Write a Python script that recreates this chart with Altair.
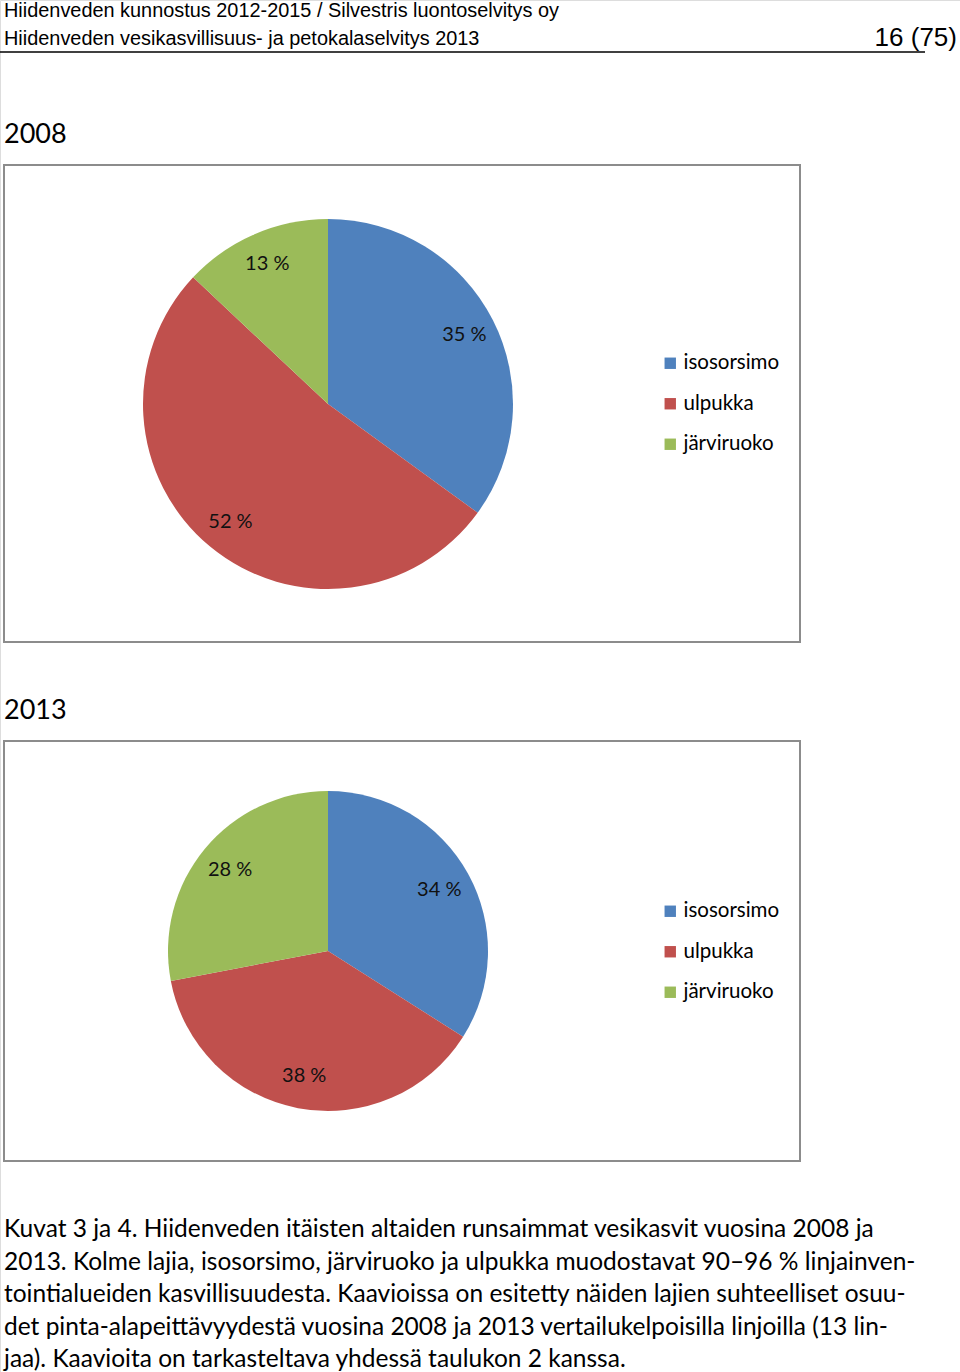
import altair as alt
import pandas as pd

species = ["isosorsimo", "ulpukka", "järviruoko"]
colors = ["#4F81BD", "#C0504D", "#9BBB59"]
values_2008 = [35, 52, 13]
values_2013 = [34, 38, 28]

header_line1 = "Hiidenveden kunnostus 2012-2015 / Silvestris luontoselvitys oy"
header_line2 = "Hiidenveden vesikasvillisuus- ja petokalaselvitys 2013"
page_no = "16 (75)"
caption_lines = [
    "Kuvat 3 ja 4. Hiidenveden itäisten altaiden runsaimmat vesikasvit vuosina 2008 ja",
    "2013. Kolme lajia, isosorsimo, järviruoko ja ulpukka muodostavat 90–96 % linjainven-",
    "tointialueiden kasvillisuudesta. Kaavioissa on esitetty näiden lajien suhteelliset osuu-",
    "det pinta-alapeittävyydestä vuosina 2008 ja 2013 vertailukelpoisilla linjoilla (13 lin-",
    "jaa). Kaavioita on tarkasteltava yhdessä taulukon 2 kanssa.",
]

FONT = "Lato"


def pie_df(vals):
    return pd.DataFrame({
        "species": species,
        "value": vals,
        "ord": list(range(len(species))),
        "label": [f"{v} %" for v in vals],
    })


one = pd.DataFrame({"a": [0]})


def text_layer(txt, x, y, size, font, align="left", baseline="alphabetic", color="#000", lh=None):
    kw = dict(align=align, baseline=baseline, fontSize=size, font=font, color=color)
    if lh is not None:
        kw["lineHeight"] = lh
    return alt.Chart(one).mark_text(**kw).encode(
        x=alt.value(x), y=alt.value(y), text=alt.value(txt)
    )


def box(x1, y1, x2, y2):
    return alt.Chart(one).mark_rect(fill="white", stroke="#8c8c8c", strokeWidth=2).encode(
        x=alt.value(x1), x2=alt.value(x2), y=alt.value(y1), y2=alt.value(y2)
    )


def pie(vals, cx, cy, r, label_r, lx, ly):
    df = pie_df(vals)
    base = alt.Chart(df)
    arc = base.mark_arc(radius=r, stroke=None).encode(
        theta=alt.Theta("value:Q", stack=True),
        order=alt.Order("ord:Q"),
        color=alt.Color(
            "species:N",
            sort=species,
            scale=alt.Scale(domain=species, range=colors),
            legend=alt.Legend(
                title=None, orient="none", legendX=lx, legendY=ly,
                symbolType="square", symbolSize=130, symbolStrokeWidth=0,
                labelFont=FONT, labelFontSize=20.5, labelColor="#000",
                rowPadding=19.5, labelOffset=3, padding=0,
            ),
        ),
        x=alt.value(cx), y=alt.value(cy),
    )
    lab = base.mark_text(radius=label_r, font=FONT, fontSize=20, color="#111").encode(
        theta=alt.Theta("value:Q", stack=True),
        order=alt.Order("ord:Q"),
        text="label:N",
        x=alt.value(cx), y=alt.value(cy),
    )
    return arc, lab


arc08, lab08 = pie(values_2008, 328, 404, 185, 153, 660, 353)
arc13, lab13 = pie(values_2013, 328, 951, 160, 127, 660, 901)

header_rule = alt.Chart(one).mark_rule(color="#000", strokeWidth=1.5).encode(
    x=alt.value(0), x2=alt.value(925), y=alt.value(52)
)

layers = [
    text_layer(header_line1, 4, 17, 19.9, "Liberation Sans"),
    text_layer(header_line2, 4, 45, 19.9, "Liberation Sans"),
    text_layer(page_no, 957, 46, 26, "Liberation Sans", align="right"),
    header_rule,
    text_layer("2008", 4, 143, 27, FONT),
    box(4, 165, 800, 642),
    arc08, lab08,
    text_layer("2013", 4, 719, 27, FONT),
    box(4, 741, 800, 1161),
    arc13, lab13,
    text_layer(caption_lines, 4, 1237, 24.5, FONT, lh=32.5),
]

chart = alt.layer(*layers).resolve_scale(color="independent").properties(
    width=960, height=1372, padding=0, autosize=alt.AutoSizeParams(type="none")
).configure_view(stroke=None).configure(background="white")

chart.save("out.html", embed_options={"renderer": "svg", "actions": False})
